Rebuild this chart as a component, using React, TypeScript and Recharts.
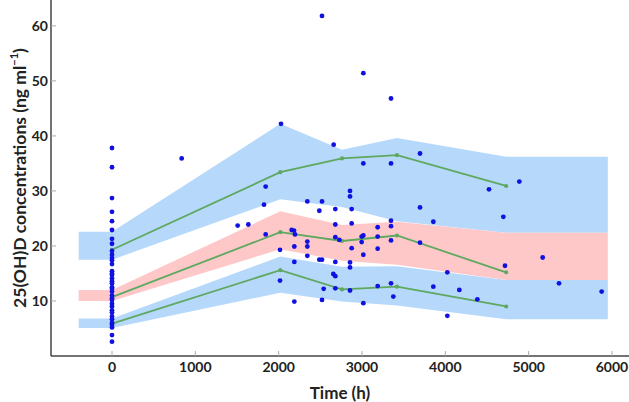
import { ComposedChart, Area, Line, Scatter, XAxis, YAxis, Label } from 'recharts'

// time bins (h) used for the prediction bands, flat ends on both sides
const BIN_TIMES = [-400, 0, 2020, 2760, 3420, 4730, 5950]

// 95th percentile CI (blue)
const UPPER_LO = [17.5, 17.5, 28.5, 27.1, 24.5, 22.4, 22.4]
const UPPER_HI = [22.6, 22.6, 42.2, 37.5, 39.6, 36.2, 36.2]
// median CI (pink)
const MEDIAN_LO = [10.0, 10.0, 19.4, 17.3, 16.6, 13.8, 13.8]
const MEDIAN_HI = [12.0, 12.0, 26.3, 23.8, 24.4, 22.4, 22.4]
// 5th percentile CI (blue)
const LOWER_LO = [5.1, 5.1, 11.5, 9.9, 9.2, 6.7, 6.7]
const LOWER_HI = [6.8, 6.8, 18.1, 16.2, 16.3, 13.8, 13.8]

// observed percentiles (green)
const OBS_P95 = [null, 19.3, 33.4, 35.9, 36.5, 30.9, null]
const OBS_P50 = [null, 10.7, 22.5, 20.9, 21.9, 15.2, null]
const OBS_P05 = [null, 5.9, 15.6, 12.1, 12.6, 9.0, null]

// baseline samples (t = 0)
const BASELINE_CONC = [
  37.8, 34.3, 28.7, 26.2, 24.5, 22.9, 21.3, 20.4, 19.1, 18.4, 17.8, 17.4, 16.7,
  15.4, 15.0, 14.7, 14.1, 13.6, 13.2, 12.5, 12.2, 11.7, 11.0, 10.5, 10.2, 9.5,
  9.0, 8.3, 7.9, 7.2, 6.7, 6.0, 5.7, 5.2, 3.8, 2.6,
]

// follow-up samples [time, conc]
const FOLLOWUP = [
  [836, 35.9], [1508, 23.7], [1636, 23.9], [1824, 27.5], [1844, 30.8], [1844, 22.1],
  [2028, 42.2], [2016, 19.3], [2016, 13.7], [2156, 22.9], [2184, 22.8], [2196, 22.1],
  [2188, 19.9], [2188, 17.1], [2188, 9.9], [2344, 28.1], [2344, 20.8], [2344, 19.9],
  [2344, 18.2], [2488, 26.4], [2488, 17.5], [2520, 28.1], [2520, 17.5], [2520, 61.8],
  [2540, 12.2], [2520, 10.2], [2660, 38.4], [2680, 26.7], [2680, 23.9], [2680, 21.6],
  [2728, 21.1], [2680, 17.1], [2656, 14.9], [2680, 14.5], [2680, 12.3], [2856, 30.0],
  [2856, 29.0], [2876, 26.7], [2876, 24.1], [2876, 19.6], [2856, 17.0], [2856, 16.1],
  [2856, 11.9], [2996, 21.7], [3016, 21.9], [2996, 20.7], [3016, 18.4], [3016, 9.6],
  [3016, 51.4], [3016, 35.0], [3188, 23.4], [3188, 21.7], [3188, 19.5], [3188, 12.7],
  [3348, 24.6], [3348, 23.6], [3348, 21.0], [3348, 13.2], [3376, 10.8], [3348, 46.8],
  [3348, 35.0], [3696, 36.8], [3696, 27.0], [3696, 20.6], [3856, 24.4], [3856, 12.6],
  [4024, 15.2], [4024, 7.3], [4168, 12.0], [4384, 10.3], [4524, 30.3], [4696, 25.3],
  [4716, 16.4], [4888, 31.7], [5168, 17.9], [5364, 13.2], [5876, 11.7],
]

const X_TICKS = [0, 1000, 2000, 3000, 4000, 5000, 6000]
const Y_TICKS = [10, 20, 30, 40, 50, 60]

const BLUE_BAND = '#b5d8fb'
const PINK_BAND = '#ffc8c8'
const GREEN = '#5fa860'
const DOT_BLUE = '#1010e0'
const FONT = 'Lato, "Open Sans", sans-serif'

const bands = BIN_TIMES.map((t, i) => ({
  x: t,
  upper: [UPPER_LO[i], UPPER_HI[i]],
  median: [MEDIAN_LO[i], MEDIAN_HI[i]],
  lower: [LOWER_LO[i], LOWER_HI[i]],
  p95: OBS_P95[i],
  p50: OBS_P50[i],
  p05: OBS_P05[i],
}))

const observations = [
  ...BASELINE_CONC.map((c) => ({ x: 0, y: c })),
  ...FOLLOWUP.map(([t, c]) => ({ x: t, y: c })),
]

const Dot = (props: any) => <circle cx={props.cx} cy={props.cy} r={2.4} fill={DOT_BLUE} />

const YTitle = ({ viewBox }: any) => {
  const cx = 19
  const cy = viewBox.y + viewBox.height / 2
  return (
    <text
      x={cx}
      y={cy}
      transform={`rotate(-90, ${cx}, ${cy})`}
      textAnchor="middle"
      dominantBaseline="central"
      fontFamily={FONT}
      fontWeight="bold"
      fontSize={17.5}
      fill="#222"
    >
      25(OH)D concentrations (ng ml
      <tspan dy={-6} fontSize={11}>−1</tspan>
      <tspan dy={6}>)</tspan>
    </text>
  )
}

const tickStyle = { fontFamily: FONT, fontWeight: 'bold', fontSize: 14, fill: '#222' }

export default function App() {
  return (
    <div style={{ position: 'absolute', left: 0, top: 0, background: '#fff' }}>
      <ComposedChart
        width={629}
        height={402}
        data={bands}
        margin={{ top: 0, right: 0, bottom: 0, left: 0 }}
      >
        <XAxis
          dataKey="x"
          type="number"
          domain={[-732, 6204]}
          allowDataOverflow
          ticks={X_TICKS}
          height={46}
          tickSize={-5}
          tickMargin={11}
          tick={tickStyle}
          tickLine={{ stroke: '#aaa' }}
          axisLine={{ stroke: '#444', strokeWidth: 1.5 }}
        >
          <Label
            value="Time (h)"
            position="insideBottom"
            offset={3}
            style={{ fontFamily: FONT, fontWeight: 'bold', fontSize: 17, fill: '#222' }}
          />
        </XAxis>
        <YAxis
          type="number"
          domain={[0, 64.7]}
          allowDataOverflow
          ticks={Y_TICKS}
          width={51}
          tickSize={-5}
          tickMargin={8}
          tick={tickStyle}
          tickLine={{ stroke: '#aaa' }}
          axisLine={{ stroke: '#444', strokeWidth: 1.5 }}
          label={<YTitle />}
        />
        <Area
          dataKey="upper"
          type="linear"
          fill={BLUE_BAND}
          fillOpacity={1}
          stroke="none"
          isAnimationActive={false}
        />
        <Area
          dataKey="lower"
          type="linear"
          fill={BLUE_BAND}
          fillOpacity={1}
          stroke="none"
          isAnimationActive={false}
        />
        <Area
          dataKey="median"
          type="linear"
          fill={PINK_BAND}
          fillOpacity={1}
          stroke="none"
          isAnimationActive={false}
        />
        {['p95', 'p50', 'p05'].map((k) => (
          <Line
            key={k}
            dataKey={k}
            type="linear"
            stroke={GREEN}
            strokeWidth={1.8}
            dot={{ r: 1.2, fill: GREEN, stroke: GREEN }}
            isAnimationActive={false}
          />
        ))}
        <Scatter data={observations} dataKey="y" shape={<Dot />} isAnimationActive={false} />
      </ComposedChart>
    </div>
  )
}
